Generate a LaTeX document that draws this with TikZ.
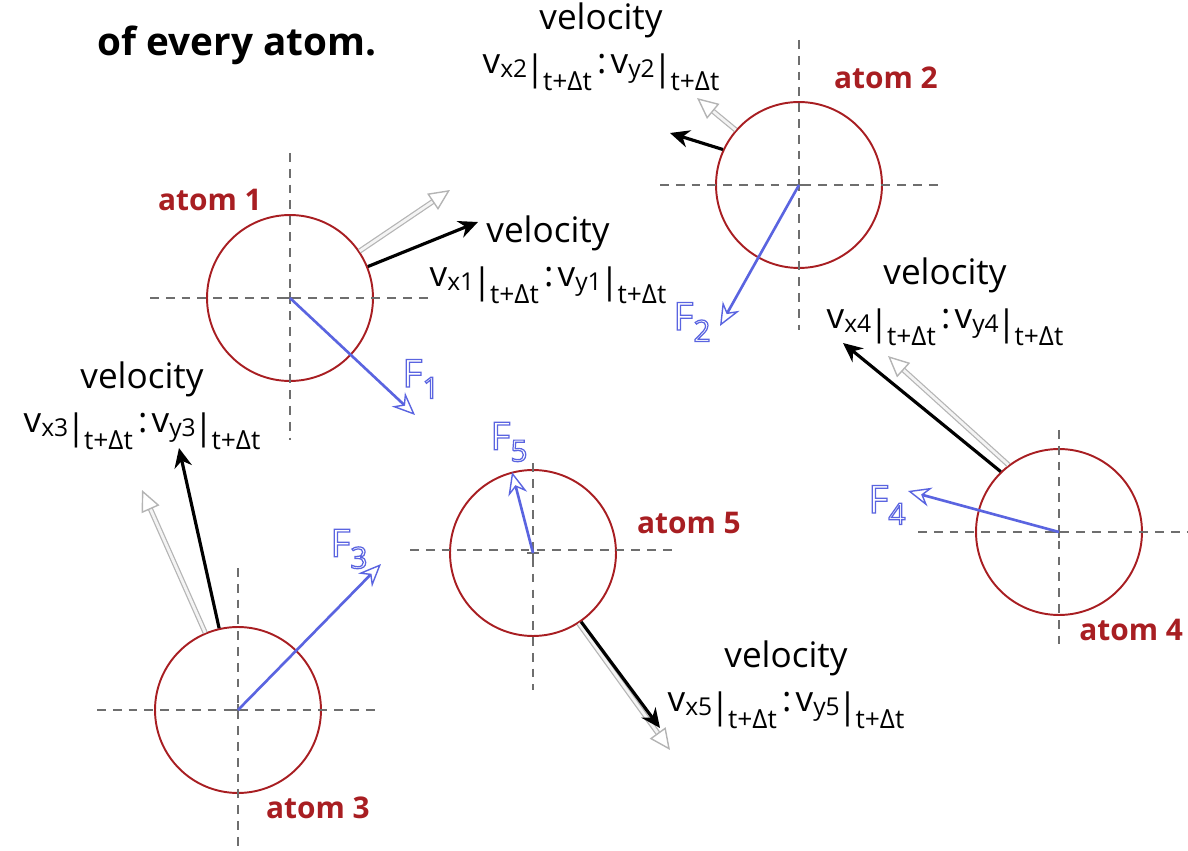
\documentclass[tikz,border=0pt]{standalone}
\usepackage{fontspec}
\setmainfont{Open Sans}
\usepackage{xcolor}
\usepackage{tikz}
\usetikzlibrary{calc,arrows.meta,positioning}
\definecolor{atomc}{HTML}{A81E22}
\definecolor{forcec}{HTML}{5A64E0}
\definecolor{guidec}{HTML}{6E6E6E}
\definecolor{oldc}{HTML}{B4B4B4}
% v_x|t+dt : v_y|t+dt
\newcommand{\vcomp}[2]{v\raisebox{-0.12em}{\fontsize{14}{14}\selectfont #1#2}\kern-0.05em\raisebox{-0.2em}{|}\kern-0.05em\raisebox{-0.5em}{\fontsize{15}{15}\selectfont t+Δt}}
\newcommand{\vpair}[1]{\vcomp{x}{#1}\kern0.15em:\kern0.12em\vcomp{y}{#1}}
% outlined force letter
\newcommand{\fout}[1]{\special{pdf:code 1 Tr 0.7 w}F\raisebox{-0.3em}{\fontsize{17}{17}\selectfont #1}\special{pdf:code 0 Tr}}
\tikzset{
  atom/.style={circle,draw=atomc,line width=1.1pt,minimum size=3.32cm,inner sep=0pt},
  atomlab/.style={text=atomc,font=\bfseries\fontsize{17}{17}\selectfont,inner sep=0pt},
  guide/.style={guidec,line width=0.8pt,dash pattern=on 5pt off 4pt},
  vel/.style={-{Stealth[length=11pt,width=10pt]},line width=1.8pt,black},
  oldvel/.style={-{Triangle[open,length=12pt,width=11pt,line width=0.8pt]},draw=oldc,line width=0.7pt,double=white!85!oldc,double distance=1.6pt},
  force/.style={-{Stealth[open,length=13pt,width=11pt,line width=0.8pt]},line width=1.5pt,forcec},
  flab/.style={text=forcec,font=\fontsize{22}{22}\selectfont,inner sep=0pt},
  vtxt/.style={align=center,font=\fontsize{20}{25}\selectfont,inner sep=0pt}
}
\begin{document}
\begin{tikzpicture}[x=0.02cm,y=-0.02cm]
\useasboundingbox (0,0) rectangle (1188,851);
\node[font=\bfseries\fontsize{22}{22}\selectfont,inner sep=0pt] (head) at (237,45) {of every atom.};

% atoms
\node[atom] (a1) at (290,298) {};
\node[atom] (a2) at (799,185) {};
\node[atom] (a3) at (238,710) {};
\node[atom] (a4) at (1059,532) {};
\node[atom] (a5) at (533,553) {};

% dashed axes
\draw[guide] (150,298) -- (430,298);
\draw[guide] (290,153) -- (290,440);
\draw[guide] (660,185) -- (940,185);
\draw[guide] (799,40) -- (799,330);
\draw[guide] (97,710) -- (378,710);
\draw[guide] (238,568) -- (238,850);
\draw[guide] (918,532) -- (1188,532);
\draw[guide] (1059,430) -- (1059,650);
\draw[guide] (410,550) -- (673,550);
\draw[guide] (533,463) -- (533,690);
\foreach \c in {a1,a2,a3,a4,a5}
  \draw[guidec,line width=0.8pt] ($(\c)+(-6,0)$) -- ($(\c)+(6,0)$) ($(\c)+(0,-6)$) -- ($(\c)+(0,6)$);

\node[atomlab] (l1) at (210,200) {atom 1};
\node[atomlab] (l2) at (886,78) {atom 2};
\node[atomlab] (l3) at (318,808) {atom 3};
\node[atomlab,anchor=west] (l4) at (1079,630) {atom 4};
\node[atomlab] (l5) at (689,523) {atom 5};

% old and new velocities
\coordinate (o1) at (450,190);
\coordinate (n1) at (478,222);
\coordinate (o2) at (697,98);
\coordinate (n2) at (670,133);
\coordinate (o3) at (142,490);
\coordinate (n3) at (179,448);
\coordinate (o4) at (888,356);
\coordinate (n4) at (843,343);
\coordinate (o5) at (670,750);
\coordinate (n5) at (660,728);
\draw[oldvel] (a1.34) -- (o1);
\draw[vel] (a1.22) -- (n1);
\draw[oldvel] (a2.139) -- (o2);
\draw[vel] (a2.155) -- (n2);
\draw[oldvel] (a3.113) -- (o3);
\draw[vel] (a3.103) -- (n3);
\draw[oldvel] (a4.127) -- (o4);
\draw[vel] (a4.134) -- (n4);
\draw[oldvel] (a5.-57) -- (o5);
\draw[vel] (a5.-55) -- (n5);

\node[vtxt] (v1) at (548,260) {velocity\\\vpair{1}};
\node[vtxt] (v2) at (601,47) {velocity\\\vpair{2}};
\node[vtxt] (v3) at (142,406) {velocity\\\vpair{3}};
\node[vtxt] (v4) at (945,302) {velocity\\\vpair{4}};
\node[vtxt] (v5) at (786,685) {velocity\\\vpair{5}};

% forces
\coordinate (f1) at (415,415);
\coordinate (f2) at (720,326);
\coordinate (f3) at (381,564);
\coordinate (f4) at (908,491);
\coordinate (f5) at (512,472);
\draw[force] (a1.center) -- (f1);
\draw[force] (a2.center) -- (f2);
\draw[force] (a3.center) -- (f3);
\draw[force] (a4.center) -- (f4);
\draw[force] (a5.center) -- (f5);
\node[flab] (F1) at (421,379) {\fout{1}};
\node[flab] (F2) at (692,322) {\fout{2}};
\node[flab] (F3) at (349,549) {\fout{3}};
\node[flab] (F4) at (887,505) {\fout{4}};
\node[flab] (F5) at (509,442) {\fout{5}};
\end{tikzpicture}
\end{document}
